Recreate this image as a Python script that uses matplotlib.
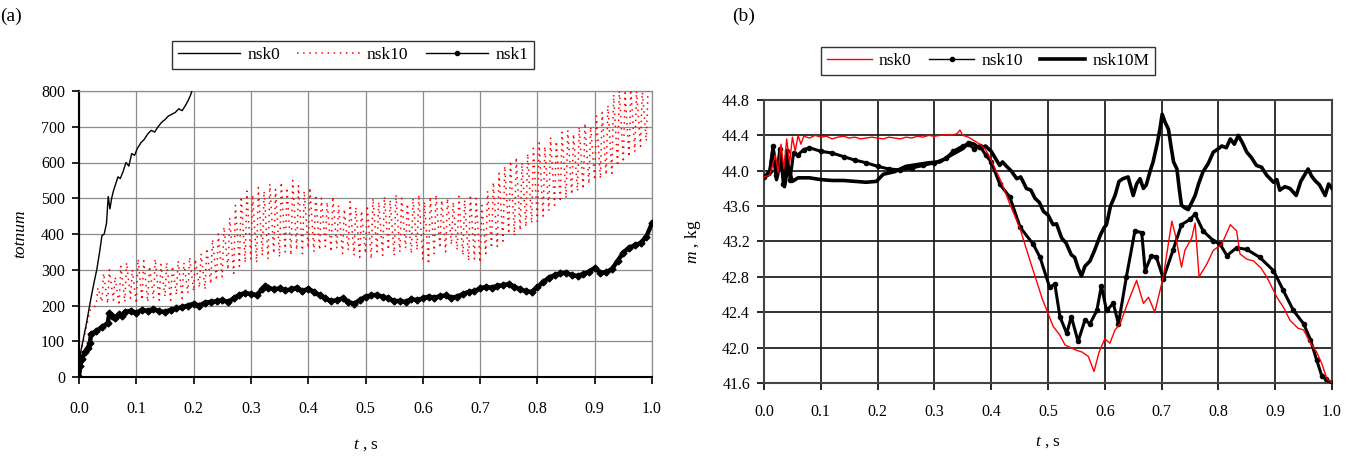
import numpy as np
import matplotlib
matplotlib.use("Agg")
import matplotlib.pyplot as plt
from matplotlib.lines import Line2D
from matplotlib.ticker import MultipleLocator, FormatStrFormatter

plt.rcParams['font.family'] = ['Liberation Serif', 'DejaVu Serif']
plt.rcParams['mathtext.fontset'] = 'custom'
plt.rcParams['mathtext.rm'] = 'Liberation Serif'
plt.rcParams['mathtext.it'] = 'Liberation Serif:italic'

# ---- panel (a): totnum vs t ----
a_nsk0_t = [0, 0.003, 0.008, 0.013, 0.018, 0.022, 0.027, 0.031, 0.036, 0.040, 0.044, 0.048,
            0.051, 0.054, 0.057, 0.060, 0.064, 0.068, 0.072, 0.077, 0.082, 0.087, 0.092,
            0.097, 0.102, 0.108, 0.114, 0.120, 0.126, 0.132, 0.138, 0.144, 0.150, 0.156,
            0.162, 0.168, 0.174, 0.180, 0.186, 0.191, 0.195, 0.198]
a_nsk0 = [0, 70, 110, 150, 195, 230, 270, 300, 350, 395, 400, 430,
          505, 470, 500, 520, 540, 560, 555, 575, 600, 590, 625,
          620, 640, 655, 665, 680, 690, 685, 700, 712, 720, 730,
          735, 740, 750, 745, 760, 775, 790, 805]

# sawtooth of nsk10: start, then one trough/peak pair per tooth
a_nsk10_start_t = [0, 0.005, 0.01, 0.02]
a_nsk10_start = [0, 80, 120, 190]
a_nsk10_tooth_t = np.round(np.arange(0.03, 0.995, 0.01), 2)
a_nsk10_peaks = [250, 290, 300, 280, 310, 320, 300, 330, 325, 310,
                 330, 315, 320, 310, 325, 320, 335, 330, 345, 360,
                 385, 400, 420, 445, 480, 505, 520, 510, 530, 520,
                 540, 525, 545, 530, 550, 535, 520, 530, 510, 500,
                 490, 505, 480, 470, 490, 475, 465, 480, 500, 490,
                 505, 495, 510, 500, 485, 500, 510, 490, 505, 510,
                 495, 500, 490, 505, 495, 510, 500, 480, 520, 545,
                 570, 590, 605, 615, 600, 625, 640, 655, 645, 670,
                 660, 685, 690, 680, 700, 710, 700, 730, 740, 760,
                 790, 800, 795, 805, 800, 805, 800]
a_nsk10_troughs = [200, 210, 205, 215, 200, 210, 220, 205, 215, 210,
                   220, 215, 225, 215, 230, 220, 235, 240, 250, 245,
                   260, 270, 280, 300, 290, 310, 320, 330, 320, 340,
                   330, 345, 335, 350, 340, 355, 345, 360, 350, 355,
                   365, 350, 360, 345, 355, 340, 335, 345, 330, 350,
                   340, 355, 340, 350, 360, 345, 355, 330, 315, 345,
                   360, 350, 370, 355, 340, 325, 330, 320, 345, 360,
                   365, 380, 400, 395, 410, 420, 430, 435, 450, 465,
                   480, 490, 500, 510, 520, 525, 540, 550, 555, 565,
                   570, 590, 600, 615, 630, 645, 660]

a_nsk1_t = [0, 0.002, 0.005, 0.01, 0.015, 0.019, 0.021, 0.03, 0.04, 0.05,
            0.053, 0.057, 0.063, 0.069, 0.075, 0.08, 0.09,
            0.10, 0.11, 0.12, 0.13, 0.14, 0.15, 0.16, 0.17, 0.18, 0.19,
            0.20, 0.21, 0.22, 0.23, 0.24, 0.25, 0.26, 0.27, 0.28, 0.29,
            0.30, 0.31, 0.32, 0.325, 0.33, 0.34, 0.35, 0.36, 0.37, 0.38, 0.39,
            0.40, 0.41, 0.42, 0.43, 0.44, 0.45, 0.46, 0.47, 0.48, 0.49,
            0.50, 0.51, 0.52, 0.53, 0.54, 0.55, 0.56, 0.57, 0.58, 0.59,
            0.60, 0.61, 0.62, 0.63, 0.64, 0.65, 0.66, 0.67, 0.68, 0.69,
            0.70, 0.71, 0.72, 0.73, 0.74, 0.75, 0.76, 0.77, 0.78, 0.79,
            0.80, 0.81, 0.82, 0.83, 0.84, 0.85, 0.86, 0.87, 0.88, 0.89,
            0.90, 0.91, 0.92, 0.93, 0.94, 0.95, 0.96, 0.97, 0.98, 0.99, 1.0]
a_nsk1 = [0, 30, 50, 70, 80, 95, 120, 128, 140, 150,
          178, 172, 165, 175, 170, 182, 185,
          180, 188, 185, 190, 184, 182, 188, 192, 195, 200,
          205, 200, 208, 210, 212, 215, 210, 220, 230, 235,
          232, 230, 245, 255, 250, 245, 248, 242, 245, 250, 240,
          247, 238, 228, 220, 212, 215, 220, 210, 205, 215,
          225, 228, 230, 224, 220, 212, 213, 210, 218, 215,
          220, 225, 222, 226, 228, 222, 225, 232, 238, 240,
          248, 252, 250, 255, 257, 260, 252, 245, 240, 238,
          252, 265, 278, 285, 290, 292, 285, 283, 288, 295,
          305, 292, 293, 302, 325, 348, 362, 368, 375, 392, 430]

# ---- panel (b): m vs t ----
b_nsk0_t = [0, 0.01, 0.02, 0.025, 0.03, 0.035, 0.04, 0.045, 0.05, 0.055, 0.06, 0.065, 0.07,
            0.08, 0.09, 0.10, 0.11, 0.12, 0.13, 0.14, 0.15, 0.16, 0.17, 0.18, 0.19, 0.20,
            0.21, 0.22, 0.23, 0.24, 0.25, 0.26, 0.27, 0.28, 0.29, 0.30, 0.31, 0.32, 0.33,
            0.34, 0.345, 0.35, 0.36, 0.37, 0.38, 0.39, 0.40, 0.41, 0.418, 0.433, 0.45, 0.47,
            0.49, 0.509, 0.52, 0.53, 0.54, 0.55, 0.56, 0.571, 0.581, 0.59, 0.60, 0.609,
            0.618, 0.627, 0.64, 0.656, 0.668, 0.677, 0.688, 0.703, 0.718, 0.724, 0.735,
            0.741, 0.753, 0.759, 0.766, 0.78, 0.791, 0.806, 0.821, 0.832, 0.838, 0.85,
            0.862, 0.875, 0.885, 0.903, 0.915, 0.926, 0.94, 0.95, 0.962, 0.973, 0.982,
            0.991, 1.0]
b_nsk0 = [43.93, 43.95, 44.18, 43.98, 44.30, 44.02, 44.36, 44.08, 44.38, 44.22, 44.40, 44.30,
          44.39, 44.37, 44.40, 44.38, 44.39, 44.36, 44.38, 44.39, 44.37, 44.38, 44.36, 44.37,
          44.38, 44.37, 44.36, 44.38, 44.37, 44.36, 44.38, 44.37, 44.39, 44.38, 44.40, 44.39,
          44.40, 44.41, 44.40, 44.42, 44.46, 44.40, 44.38, 44.34, 44.30, 44.24, 44.12, 43.98,
          43.87, 43.62, 43.36, 42.95, 42.55, 42.24, 42.15, 42.03, 42.00, 41.97, 41.95, 41.90,
          41.73, 41.95, 42.10, 42.05, 42.20, 42.27, 42.50, 42.76, 42.50, 42.57, 42.40, 42.80,
          43.43, 43.28, 42.91, 43.10, 43.24, 43.41, 42.80, 42.95, 43.10, 43.17, 43.39, 43.32,
          43.06, 43.00, 42.98, 42.90, 42.80, 42.57, 42.45, 42.31, 42.22, 42.20, 42.05, 41.95,
          41.82, 41.65, 41.60]

b_nsk10_t = [0, 0.01, 0.016, 0.022, 0.028, 0.034, 0.04, 0.046, 0.052, 0.06, 0.07, 0.08,
             0.10, 0.12, 0.14, 0.16, 0.18, 0.20, 0.22, 0.24, 0.26, 0.28, 0.30, 0.32, 0.333,
             0.35, 0.36, 0.37, 0.38, 0.39, 0.40, 0.415, 0.433, 0.451, 0.474, 0.486, 0.503,
             0.512, 0.521, 0.533, 0.541, 0.553, 0.565, 0.574, 0.586, 0.594, 0.603, 0.615,
             0.624, 0.638, 0.653, 0.665, 0.671, 0.682, 0.691, 0.703, 0.720, 0.735, 0.750,
             0.759, 0.773, 0.791, 0.803, 0.815, 0.832, 0.850, 0.873, 0.897, 0.914, 0.932,
             0.950, 0.962, 0.973, 0.982, 0.990, 1.0]
b_nsk10 = [43.93, 44.00, 44.28, 43.95, 44.25, 43.85, 44.22, 43.90, 44.20, 44.18, 44.24, 44.26,
           44.22, 44.20, 44.16, 44.12, 44.09, 44.05, 44.02, 44.01, 44.03, 44.06, 44.09, 44.14,
           44.22, 44.28, 44.30, 44.25, 44.28, 44.18, 44.10, 43.85, 43.70, 43.36, 43.17, 43.02,
           42.68, 42.72, 42.35, 42.16, 42.35, 42.07, 42.31, 42.27, 42.42, 42.70, 42.42, 42.50,
           42.27, 42.80, 43.32, 43.30, 42.87, 43.04, 43.02, 42.78, 43.10, 43.39, 43.45, 43.51,
           43.32, 43.21, 43.17, 43.04, 43.13, 43.11, 43.02, 42.87, 42.65, 42.42, 42.27, 42.09,
           41.86, 41.68, 41.64, 41.60]

b_nsk10M_t = [0, 0.01, 0.016, 0.022, 0.03, 0.036, 0.042, 0.05, 0.06, 0.08, 0.10, 0.12, 0.14,
              0.16, 0.18, 0.198, 0.21, 0.23, 0.25, 0.27, 0.29, 0.31, 0.33, 0.35, 0.36, 0.37,
              0.38, 0.39, 0.40, 0.415, 0.420, 0.427, 0.435, 0.445, 0.452, 0.462, 0.470, 0.477,
              0.485, 0.492, 0.500, 0.509, 0.515, 0.524, 0.532, 0.541, 0.547, 0.553, 0.559,
              0.565, 0.574, 0.582, 0.592, 0.598, 0.603, 0.610, 0.618, 0.625, 0.632, 0.641,
              0.650, 0.656, 0.662, 0.668, 0.673, 0.680, 0.685, 0.692, 0.697, 0.701, 0.706,
              0.712, 0.716, 0.721, 0.727, 0.731, 0.735, 0.741, 0.747, 0.759, 0.765, 0.773,
              0.782, 0.791, 0.798, 0.806, 0.814, 0.821, 0.828, 0.835, 0.842, 0.850, 0.858,
              0.867, 0.876, 0.885, 0.897, 0.903, 0.908, 0.917, 0.926, 0.937, 0.945, 0.958,
              0.964, 0.970, 0.978, 0.988, 0.994, 1.0]
b_nsk10M = [43.93, 43.96, 44.25, 43.90, 44.15, 43.82, 44.05, 43.88, 43.92, 43.92, 43.90, 43.89,
            43.89, 43.88, 43.87, 43.88, 43.96, 43.99, 44.05, 44.07, 44.09, 44.10, 44.18, 44.25,
            44.32, 44.30, 44.25, 44.28, 44.22, 44.06, 44.10, 44.05, 44.00, 43.91, 43.93, 43.80,
            43.78, 43.69, 43.64, 43.54, 43.50, 43.39, 43.40, 43.24, 43.18, 43.05, 43.02, 42.90,
            42.81, 42.92, 42.98, 43.10, 43.27, 43.35, 43.39, 43.60, 43.72, 43.88, 43.91, 43.93,
            43.72, 43.85, 43.91, 43.80, 43.84, 44.00, 44.10, 44.30, 44.47, 44.64, 44.55, 44.47,
            44.30, 44.10, 44.02, 43.80, 43.61, 43.58, 43.56, 43.72, 43.85, 43.99, 44.08, 44.21,
            44.24, 44.28, 44.26, 44.36, 44.30, 44.40, 44.32, 44.21, 44.15, 44.06, 44.04, 43.95,
            43.87, 43.90, 43.78, 43.82, 43.80, 43.72, 43.88, 44.02, 43.94, 43.89, 43.84, 43.72,
            43.85, 43.80]

W, H = 1352, 474
fig = plt.figure(figsize=(W / 100, H / 100), dpi=100)
ax1 = fig.add_axes([79 / W, 1 - 377 / H, (652 - 79) / W, (377 - 91) / H])
ax2 = fig.add_axes([764 / W, 1 - 383 / H, (1332 - 764) / W, (383 - 100) / H])

# build the sawtooth path: fast rise, slower drop
saw_t = list(a_nsk10_start_t)
saw_v = list(a_nsk10_start)
for t, lo, hi in zip(a_nsk10_tooth_t, a_nsk10_troughs, a_nsk10_peaks):
    saw_t += [t, t + 0.003]
    saw_v += [lo, hi]

ax1.plot(a_nsk0_t, a_nsk0, color='black', lw=1.0, zorder=4)
ax1.plot(saw_t, saw_v, color='red', lw=1.1, ls=(0, (1, 3)), zorder=3)
ax1.plot(a_nsk1_t, a_nsk1, color='black', lw=3.2, marker='D', ms=3.5, zorder=5)

ax1.set_xlim(0, 1)
ax1.set_ylim(0, 800)
ax1.xaxis.set_major_locator(MultipleLocator(0.1))
ax1.xaxis.set_major_formatter(FormatStrFormatter('%.1f'))
ax1.yaxis.set_major_locator(MultipleLocator(100))
ax1.grid(True, color='#8c8c8c', lw=0.9)
ax1.set_axisbelow(True)
for s in ['top', 'right']:
    ax1.spines[s].set_color('#8c8c8c')
    ax1.spines[s].set_linewidth(0.9)
for s in ['left', 'bottom']:
    ax1.spines[s].set_linewidth(1.5)
ax1.tick_params(direction='out', length=5, width=1.2, labelsize=11.5)
ax1.tick_params(axis='x', pad=12)
ax1.tick_params(axis='y', pad=5)
ax1.set_xlabel('$t$ , s', fontsize=12.5, labelpad=15)
ax1.set_ylabel('totnum', fontsize=12.5, fontstyle='italic', labelpad=9)

ax2.plot(b_nsk10M_t, b_nsk10M, color='black', lw=2.6, zorder=3)
ax2.plot(b_nsk10_t, b_nsk10, color='black', lw=2.2, marker='o', ms=3, zorder=4)
ax2.plot(b_nsk0_t, b_nsk0, color='red', lw=1.0, zorder=5)

ax2.set_xlim(0, 1)
ax2.set_ylim(41.6, 44.8)
ax2.xaxis.set_major_locator(MultipleLocator(0.1))
ax2.xaxis.set_major_formatter(FormatStrFormatter('%.1f'))
ax2.yaxis.set_major_locator(MultipleLocator(0.4))
ax2.yaxis.set_major_formatter(FormatStrFormatter('%.1f'))
ax2.grid(True, color='#222222', lw=1.3)
ax2.set_axisbelow(True)
for s in ax2.spines.values():
    s.set_linewidth(1.5)
    s.set_color('#444444')
ax2.tick_params(direction='out', length=5, width=1.2, labelsize=11.5)
ax2.tick_params(axis='x', pad=10)
ax2.tick_params(axis='y', pad=5)
ax2.set_xlabel('$t$ , s', fontsize=12.5, labelpad=10)
ax2.set_ylabel('$m$ , kg', fontsize=12.5, labelpad=14)

leg_kw = dict(loc='center', ncol=3, fontsize=12.5, frameon=True, fancybox=False,
              edgecolor='black', handlelength=3.6, columnspacing=1.0,
              handletextpad=0.4, borderpad=0.35)
h1 = [Line2D([], [], color='black', lw=1.0),
      Line2D([], [], color='red', lw=1.1, ls=(0, (1, 3))),
      Line2D([], [], color='black', lw=1.0, marker='o', ms=3)]
l1 = fig.legend(h1, ['nsk0', 'nsk10', 'nsk1'], bbox_to_anchor=(353 / W, 1 - 55 / H), **leg_kw)
l1.get_frame().set_linewidth(1.0)
h2 = [Line2D([], [], color='red', lw=1.0),
      Line2D([], [], color='black', lw=1.0, marker='o', ms=3),
      Line2D([], [], color='black', lw=2.6)]
leg_kw['handlelength'] = 2.6
l2 = fig.legend(h2, ['nsk0', 'nsk10', 'nsk10M'], bbox_to_anchor=(988 / W, 1 - 61 / H), **leg_kw)
l2.get_frame().set_linewidth(1.0)

fig.text(0, 1 - 16 / H, '(a)', fontsize=14, va='center', ha='left')
fig.text(732 / W, 1 - 16 / H, '(b)', fontsize=14, va='center', ha='left')

fig.savefig('out.png', dpi=100)
